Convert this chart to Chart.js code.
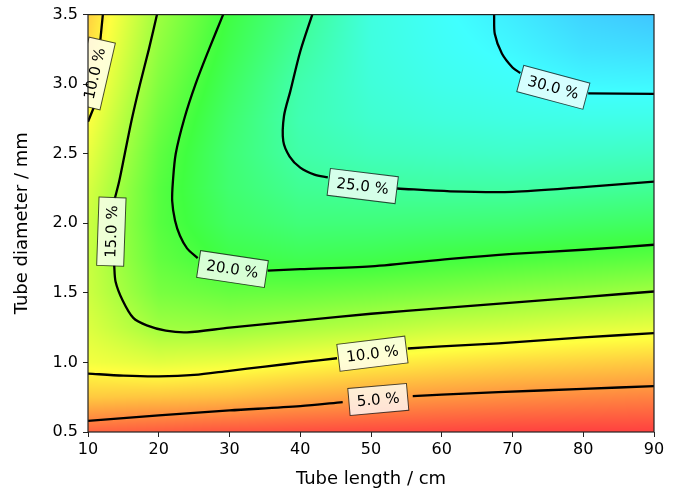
<!DOCTYPE html>
<html>
<head>
<meta charset="utf-8">
<script src="https://cdn.jsdelivr.net/npm/chart.js@4.4.1/dist/chart.umd.min.js"></script>
<style>
  html, body { margin: 0; padding: 0; background: #fff; }
</style>
</head>
<body>
<canvas id="chart" width="681" height="492"></canvas>
<script>
// grid (tube length / cm across, tube diameter / mm down)
const lengths = [10, 20, 30, 40, 50, 60, 70, 80, 90]
const diameters = [0.5, 0.75, 1.0, 1.25, 1.5, 1.75, 2.0, 2.25, 2.5, 2.75, 3.0, 3.25, 3.5]
const efficiency = [
    [1.8, 1.4, 1.0, 0.7, 0.5, 0.3, 0.1, 0.0, 0.0],
    [7.2, 6.9, 6.5, 5.7, 5.0, 4.5, 4.1, 3.8, 3.5],
    [10.6, 11.5, 11.0, 10.1, 9.3, 8.6, 8.0, 7.6, 7.2],
    [11.8, 15.0, 15.3, 14.5, 13.7, 12.8, 12.3, 11.6, 11.2],
    [12.6, 17.0, 18.0, 17.8, 17.3, 16.7, 16.0, 15.5, 14.8],
    [12.8, 18.2, 20.4, 21.0, 20.7, 20.1, 19.6, 19.1, 18.6],
    [12.6, 18.8, 21.8, 23.0, 23.0, 22.8, 22.6, 22.1, 21.7],
    [12.0, 18.8, 22.5, 24.4, 24.9, 25.1, 25.2, 24.9, 24.5],
    [11.0, 18.3, 22.7, 25.5, 26.5, 26.9, 27.2, 27.0, 26.8],
    [10.0, 17.5, 22.3, 26.0, 27.5, 28.2, 28.6, 28.8, 28.8],
    [9.0, 16.6, 21.6, 25.8, 28.0, 29.0, 29.6, 30.3, 30.4],
    [8.2, 15.8, 20.8, 25.0, 28.3, 29.5, 30.4, 31.5, 31.8],
    [7.5, 15.1, 20.2, 24.2, 28.4, 29.8, 31.0, 32.3, 33.0],
]

// contour lines, split where the inline labels sit
const line5Left = [[10, 0.58], [20, 0.62], [30, 0.655], [40, 0.686], [46, 0.715]]
const line5Right = [[55.9, 0.758], [60, 0.768], [68, 0.786], [80, 0.81], [90, 0.83]]
const line10Left = [[10, 0.92], [15, 0.905], [20, 0.9], [25, 0.91], [30, 0.94], [35, 0.97], [40, 1.0], [45.2, 1.03]]
const line10Right = [[55.2, 1.1], [60, 1.115], [68, 1.137], [80, 1.18], [90, 1.21]]
const line10TopA = [[12.1, 3.5], [11.75, 3.32]]
const line10TopB = [[10.8, 2.83], [10.4, 2.78], [10, 2.73]]
const line15Top = [[19.75, 3.5], [18.6, 3.25], [17.35, 3.0], [16.2, 2.75], [15.2, 2.5], [14.4, 2.3], [13.8, 2.18]]
const line15Bottom = [[13.7, 1.7], [13.9, 1.58], [14.9, 1.445], [16.4, 1.32], [18.3, 1.266], [21, 1.228], [24, 1.216], [30, 1.25], [40, 1.3], [50, 1.35], [60, 1.39], [70, 1.43], [80, 1.47], [90, 1.51]]
const line20Left = [[29.1, 3.5], [27.1, 3.25], [25.2, 3.0], [23.6, 2.75], [22.4, 2.5], [22, 2.3], [21.9, 2.16], [22.3, 2.02], [23, 1.91], [24, 1.82], [25.5, 1.75]]
const line20Right = [[35.4, 1.66], [40, 1.67], [50, 1.69], [61.2, 1.744], [70, 1.78], [80, 1.81], [90, 1.846]]
const line25Left = [[41.7, 3.5], [40, 3.235], [38.6, 2.95], [37.7, 2.77], [37.6, 2.59], [38.5, 2.48], [40, 2.4], [42, 2.35], [43.9, 2.33]]
const line25Right = [[53.7, 2.25], [61.2, 2.23], [70, 2.226], [80, 2.26], [90, 2.3]]
const line30Left = [[67.4, 3.5], [67.5, 3.36], [68.5, 3.22], [70, 3.12], [71.1, 3.08]]
const line30Right = [[80.7, 2.934], [90, 2.93]]

const labelText = ['10.0 %', '15.0 %', '20.0 %', '25.0 %', '30.0 %', '10.0 %', '5.0 %']
const labelX = [10.92, 13.3, 30.42, 48.83, 75.77, 50.2, 51.03]
const labelY = [3.077, 1.94, 1.671, 2.268, 2.977, 1.063, 0.734]

const xTicks = [10, 20, 30, 40, 50, 60, 70, 80, 90]
const yTicks = [0.5, 1.0, 1.5, 2.0, 2.5, 3.0, 3.5]

const segments = [line5Left, line5Right, line10Left, line10Right, line10TopA, line10TopB,
    line15Top, line15Bottom, line20Left, line20Right, line25Left, line25Right, line30Left, line30Right]

// rotation of each label box, degrees
const labelAngle = [-77, -88, 8.5, 7, 15, -7, -5]

function sample(xv, yv) {
    let i = 0
    while (i < lengths.length - 2 && xv > lengths[i + 1]) i++
    let j = 0
    while (j < diameters.length - 2 && yv > diameters[j + 1]) j++
    let tx = (xv - lengths[i]) / (lengths[i + 1] - lengths[i])
    let ty = (yv - diameters[j]) / (diameters[j + 1] - diameters[j])
    tx = Math.max(0, Math.min(1, tx))
    ty = Math.max(0, Math.min(1, ty))
    const a = efficiency[j][i], b = efficiency[j][i + 1]
    const c = efficiency[j + 1][i], d = efficiency[j + 1][i + 1]
    return (a * (1 - tx) + b * tx) * (1 - ty) + (c * (1 - tx) + d * tx) * ty
}

function zColor(z) {
    // hsv hue sweep, laid over white at 0.75 alpha
    const h = Math.max(0, Math.min(300, z * 6)) / 60
    const k = h - Math.floor(h)
    let r, g, b
    switch (Math.floor(h) % 6) {
        case 0: r = 1; g = k; b = 0; break
        case 1: r = 1 - k; g = 1; b = 0; break
        case 2: r = 0; g = 1; b = k; break
        case 3: r = 0; g = 1 - k; b = 1; break
        case 4: r = k; g = 0; b = 1; break
        default: r = 1; g = 0; b = 1 - k
    }
    const al = 0.75
    return [255 * (r * al + 1 - al), 255 * (g * al + 1 - al), 255 * (b * al + 1 - al)]
}

const fieldPlugin = {
    id: 'field',
    beforeDatasetsDraw(chart) {
        const { ctx, chartArea: a, scales } = chart
        const left = Math.round(a.left), top = Math.round(a.top)
        const w = Math.round(a.right) - left, h = Math.round(a.bottom) - top
        const img = ctx.createImageData(w, h)
        for (let j = 0; j < h; j++) {
            const yv = scales.y.getValueForPixel(top + j + 0.5)
            for (let i = 0; i < w; i++) {
                const xv = scales.x.getValueForPixel(left + i + 0.5)
                const c = zColor(sample(xv, yv))
                const k = (j * w + i) * 4
                img.data[k] = c[0]
                img.data[k + 1] = c[1]
                img.data[k + 2] = c[2]
                img.data[k + 3] = 255
            }
        }
        ctx.putImageData(img, left, top)
    },
    afterDatasetsDraw(chart) {
        const { ctx, chartArea: a, scales } = chart
        ctx.save()
        ctx.font = '15px "DejaVu Sans"'
        ctx.textAlign = 'center'
        ctx.textBaseline = 'middle'
        for (let n = 0; n < labelText.length; n++) {
            const px = scales.x.getPixelForValue(labelX[n])
            const py = scales.y.getPixelForValue(labelY[n])
            const tw = ctx.measureText(labelText[n]).width
            const bw = tw + 16, bh = 27
            ctx.save()
            ctx.beginPath()
            ctx.rect(a.left, a.top, a.right - a.left, a.bottom - a.top)
            ctx.clip()
            ctx.translate(px, py)
            ctx.rotate(labelAngle[n] * Math.PI / 180)
            ctx.fillStyle = 'rgba(255,255,255,0.78)'
            ctx.fillRect(-bw / 2, -bh / 2, bw, bh)
            ctx.strokeStyle = 'rgba(0,0,0,0.7)'
            ctx.lineWidth = 1
            ctx.strokeRect(-bw / 2, -bh / 2, bw, bh)
            ctx.restore()
            ctx.save()
            ctx.translate(px, py)
            ctx.rotate(labelAngle[n] * Math.PI / 180)
            ctx.fillStyle = '#000'
            ctx.fillText(labelText[n], 0, 1)
            ctx.restore()
        }
        ctx.strokeStyle = '#222'
        ctx.lineWidth = 1.2
        ctx.strokeRect(a.left, a.top, a.right - a.left, a.bottom - a.top)
        ctx.restore()
    },
}

Chart.defaults.font.family = '"DejaVu Sans"'
Chart.defaults.color = '#000'

new Chart(document.getElementById('chart'), {
    type: 'scatter',
    data: {
        datasets: segments.map(function (seg) {
            return {
                data: seg.map(p => ({ x: p[0], y: p[1] })),
                showLine: true,
                borderColor: '#000',
                borderWidth: 2.3,
                pointRadius: 0,
                tension: 0.3,
                fill: false,
            }
        }),
    },
    options: {
        responsive: false,
        animation: false,
        devicePixelRatio: 1,
        layout: { padding: { left: 0, right: 27, top: 13, bottom: 0 } },
        plugins: { legend: { display: false }, tooltip: { enabled: false } },
        scales: {
            x: {
                type: 'linear',
                min: 10,
                max: 90,
                afterBuildTicks: s => { s.ticks = xTicks.map(v => ({ value: v })) },
                afterFit: s => { s.height = 60 },
                ticks: { font: { size: 16 }, padding: 3, maxRotation: 0, callback: v => String(v) },
                grid: { drawOnChartArea: false, tickLength: 5, tickColor: '#222' },
                border: { display: false },
                title: { display: true, text: 'Tube length / cm', font: { size: 18 }, padding: { top: 0, bottom: 2 } },
            },
            y: {
                type: 'linear',
                min: 0.5,
                max: 3.5,
                afterBuildTicks: s => { s.ticks = yTicks.map(v => ({ value: v })) },
                afterFit: s => { s.width = 88 },
                ticks: { font: { size: 16 }, padding: 5, callback: v => v.toFixed(1) },
                grid: { drawOnChartArea: false, tickLength: 5, tickColor: '#222' },
                border: { display: false },
                title: { display: true, text: 'Tube diameter / mm', font: { size: 18 }, padding: { top: 12, bottom: 0 } },
            },
        },
    },
    plugins: [fieldPlugin],
})
</script>
</body>
</html>
